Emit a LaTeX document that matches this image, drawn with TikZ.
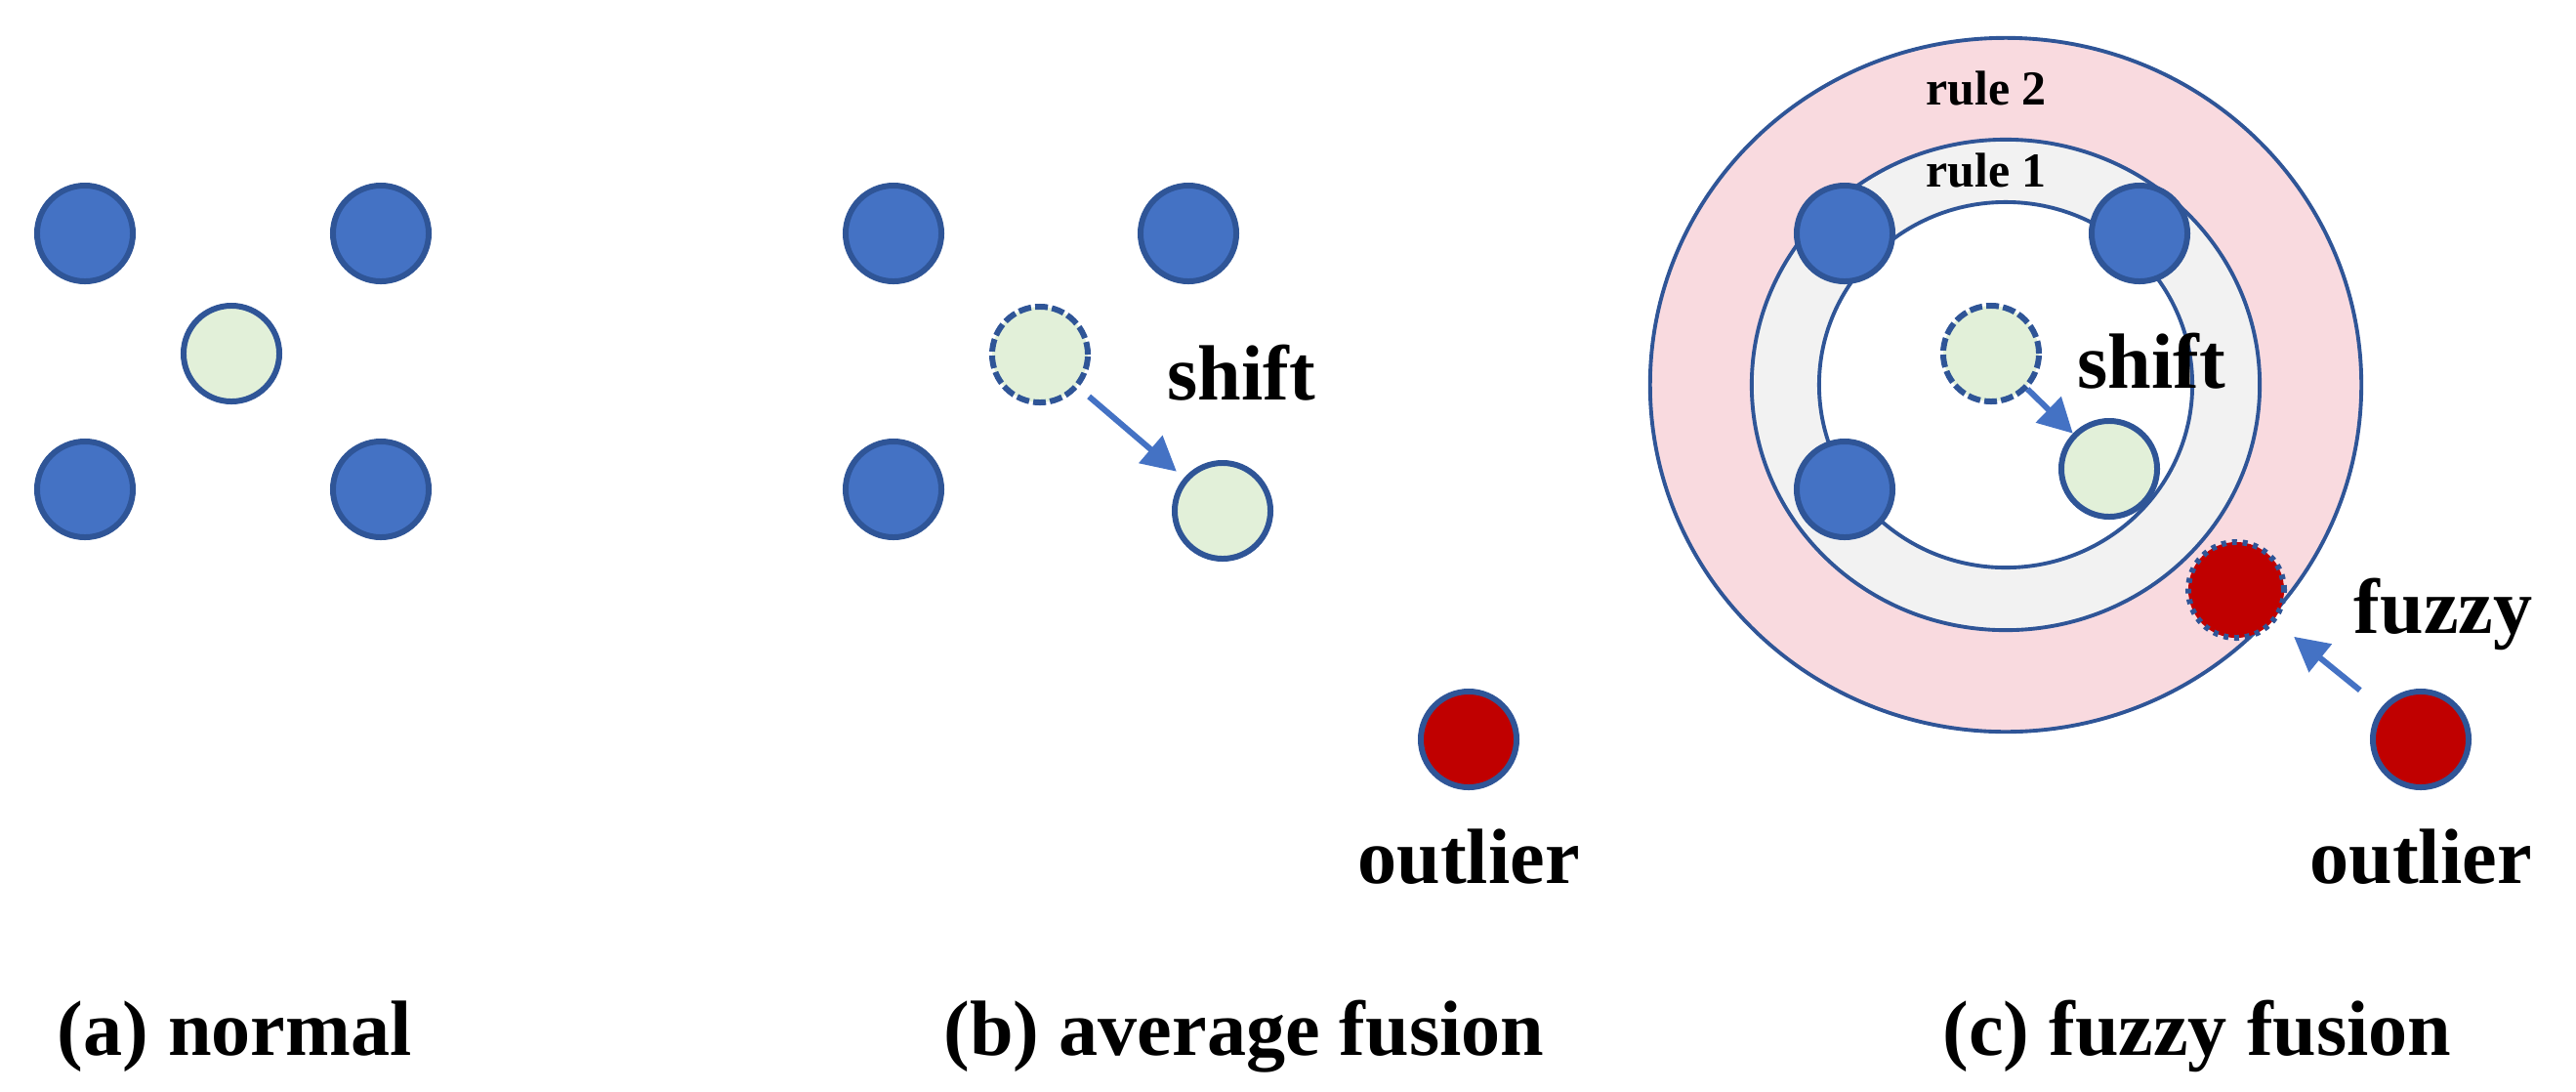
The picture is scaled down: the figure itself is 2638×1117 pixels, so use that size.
\documentclass[tikz,border=0pt]{standalone}
\usepackage{fontspec}
\setmainfont{Liberation Serif}
\usetikzlibrary{arrows.meta,positioning}

\definecolor{ptblue}{HTML}{4472C4}
\definecolor{edgeblue}{HTML}{2F5597}
\definecolor{ptgreen}{HTML}{E2F0D9}
\definecolor{ptred}{HTML}{C00000}
\definecolor{ringpink}{HTML}{F9DADF}
\definecolor{ringgray}{HTML}{F2F2F2}

\begin{document}
\begin{tikzpicture}[
    x=0.01cm, y=-0.01cm,
    point/.style={circle, draw=edgeblue, fill=ptblue, minimum size=0.98cm,
                  inner sep=0pt, line width=1.7pt},
    fused/.style={point, fill=ptgreen},
    moved/.style={fused, dash pattern=on 3.7pt off 1.2pt},
    outlier/.style={point, fill=ptred},
    fuzzed/.style={outlier, dash pattern=on 1.4pt off 1.7pt},
    ring/.style={draw=edgeblue, line width=1.1pt},
    arrow/.style={-{Triangle[length=3.5mm, width=3.6mm]}, draw=ptblue, line width=1.7pt},
    lbl/.style={font=\fontsize{22.8}{27}\selectfont\bfseries, inner sep=0pt},
    rulelbl/.style={font=\fontsize{14.2}{17}\selectfont\bfseries, inner sep=0pt}
]
    \useasboundingbox (0,0) rectangle (2638,1117);

    % (a) normal
    \node[point] (a1) at (87,239) {};
    \node[point] (a2) at (390,239) {};
    \node[point] (a3) at (87,501) {};
    \node[point] (a4) at (390,501) {};
    \node[fused] (ag) at (237,362) {};
    \node[lbl, anchor=base] (capa) at (240,1080) {(a) normal};

    % (b) average fusion
    \node[point] (b1) at (915,239) {};
    \node[point] (b2) at (1217,239) {};
    \node[point] (b3) at (915,501) {};
    \node[moved] (bg) at (1065,363) {};
    \node[fused] (bs) at (1252,523) {};
    \node[outlier] (outb) at (1504,757) {};
    \draw[arrow, shorten <=0.14cm, shorten >=0.1cm] (bg) -- (bs);
    \node[lbl, anchor=base] (shiftb) at (1271,409) {shift};
    \node[lbl, below=0.39cm of outb] (outlblb) {outlier};
    \node[lbl, anchor=base] (capb) at (1274,1080) {(b) average fusion};

    % (c) fuzzy fusion
    \draw[ring, fill=ringpink] (2054,394) ellipse [x radius=3.64cm, y radius=3.55cm];
    \draw[ring, fill=ringgray] (2054,394) ellipse [x radius=2.6cm, y radius=2.51cm];
    \draw[ring, fill=white] (2054,394) ellipse [x radius=1.91cm, y radius=1.87cm];
    \node[rulelbl, anchor=base] (rule2) at (2034,107) {rule 2};
    \node[rulelbl, anchor=base] (rule1) at (2034,191) {rule 1};

    \node[point] (c1) at (1889,239) {};
    \node[point] (c2) at (2191,239) {};
    \node[point] (c3) at (1889,501) {};
    \node[moved] (cg) at (2039,362) {};
    \node[fused] (cs) at (2160,480) {};
    \node[fuzzed] (fzc) at (2290,604) {};
    \node[outlier] (outc) at (2479,757) {};
    \draw[arrow] (cg) -- (cs);
    \draw[arrow, shorten <=0.28cm, shorten >=0.24cm] (outc) -- (fzc);
    \node[lbl, anchor=base] (shiftc) at (2203,397) {shift};
    \node[lbl, anchor=base] (fuzzy) at (2502,648) {fuzzy};
    \node[lbl, below=0.39cm of outc] (outlblc) {outlier};
    \node[lbl, anchor=base] (capc) at (2250,1080) {(c) fuzzy fusion};
\end{tikzpicture}
\end{document}
